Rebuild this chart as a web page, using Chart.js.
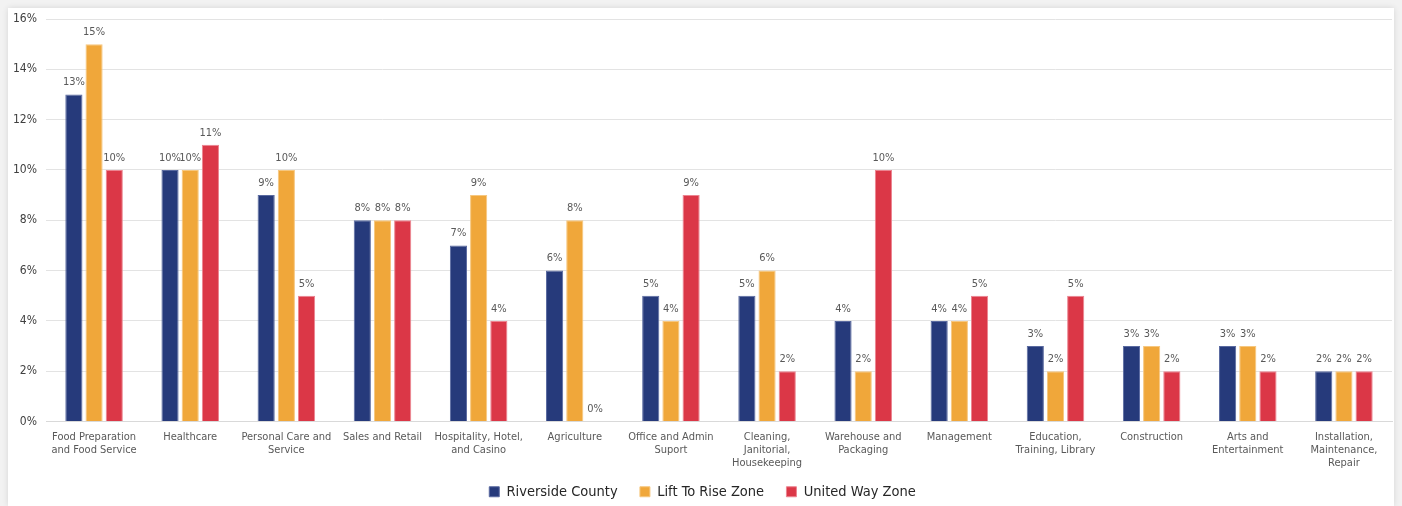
<!DOCTYPE html>
<html>
<head>
<meta charset="utf-8">
<script src="https://cdn.jsdelivr.net/npm/chart.js@4"></script>
<style>
  html, body { margin: 0; padding: 0; background: #f2f2f2; }
  #card {
    position: absolute; left: 8px; top: 8px; width: 1386px; height: 498px;
    background: #fff; box-shadow: 0 0 6px rgba(0,0,0,0.12);
  }
  #card canvas { display: block; }
</style>
</head>
<body>
<div id="card"><canvas id="occupation-chart"></canvas></div>
<script>
// Share of employment by occupation group
const occupationLabels = [
    ['Food Preparation', 'and Food Service'],
    'Healthcare',
    ['Personal Care and', 'Service'],
    'Sales and Retail',
    ['Hospitality, Hotel,', 'and Casino'],
    'Agriculture',
    ['Office and Admin', 'Suport'],
    ['Cleaning,', 'Janitorial,', 'Housekeeping'],
    ['Warehouse and', 'Packaging'],
    'Management',
    ['Education,', 'Training, Library'],
    'Construction',
    ['Arts and', 'Entertainment'],
    ['Installation,', 'Maintenance,', 'Repair']
];
const riversideData = [13, 10, 9, 8, 7, 6, 5, 5, 4, 4, 3, 3, 3, 2];
const liftToRiseData = [15, 10, 10, 8, 9, 8, 4, 6, 2, 4, 2, 3, 3, 2];
const unitedWayData = [10, 11, 5, 8, 4, 0, 9, 2, 10, 5, 5, 2, 2, 2];
const yTickValues = [0, 2, 4, 6, 8, 10, 12, 14, 16];

const fontFamily = '"DejaVu Sans Condensed", Tahoma, "DejaVu Sans", sans-serif';

// Draw the value above each bar
const valueLabels = {
    id: 'valueLabels',
    afterDatasetsDraw(chart) {
        const ctx = chart.ctx;
        ctx.save();
        ctx.font = '11px ' + fontFamily;
        ctx.fillStyle = '#595959';
        ctx.textAlign = 'center';
        ctx.textBaseline = 'middle';
        chart.data.datasets.forEach((ds, i) => {
            chart.getDatasetMeta(i).data.forEach((bar, j) => {
                ctx.fillText(ds.data[j] + '%', bar.x, bar.y - 12);
            });
        });
        ctx.restore();
    }
};

const occupationChart = new Chart(document.getElementById('occupation-chart'), {
    type: 'bar',
    data: {
        labels: occupationLabels,
        datasets: [{
            label: 'Riverside County',
            data: riversideData,
            backgroundColor: '#263a7b',
            borderColor: '#5a6aa0',
            borderWidth: 1
        }, {
            label: 'Lift To Rise Zone',
            data: liftToRiseData,
            backgroundColor: '#f0a73a',
            borderColor: '#f6c77f',
            borderWidth: 1
        }, {
            label: 'United Way Zone',
            data: unitedWayData,
            backgroundColor: '#db3747',
            borderColor: '#ec8490',
            borderWidth: 1
        }]
    },
    options: {
        responsive: true,
        maintainAspectRatio: false,
        animation: false,
        categoryPercentage: 0.63,
        barPercentage: 0.85,
        layout: { padding: { top: 0, right: 2, left: 5, bottom: -3 } },
        plugins: {
            tooltip: { enabled: false },
            legend: {
                position: 'bottom',
                labels: {
                    boxWidth: 10,
                    boxHeight: 10,
                    padding: 14,
                    color: '#262626',
                    font: { family: fontFamily, size: 14.5 },
                    generateLabels(chart) {
                        const items = Chart.defaults.plugins.legend.labels.generateLabels(chart);
                        items.forEach((it, i) => {
                            if (i < items.length - 1) it.text += '  ';
                        });
                        return items;
                    }
                }
            }
        },
        scales: {
            x: {
                grid: { display: false },
                border: { color: '#d9d9d9' },
                afterFit(scale) {
                    scale.paddingLeft = 0;
                    scale.paddingRight = 0;
                },
                ticks: {
                    color: '#595959',
                    padding: 1,
                    maxRotation: 0,
                    autoSkip: false,
                    font: { family: fontFamily, size: 11, lineHeight: '13px' }
                }
            },
            y: {
                min: 0,
                max: 16,
                afterBuildTicks(axis) {
                    axis.ticks = yTickValues.map(v => ({ value: v }));
                },
                afterFit(scale) {
                    scale.width = 33;
                    scale.paddingTop = 11;
                    scale.paddingBottom = 0;
                },
                grid: { color: '#e3e3e3', drawTicks: false },
                border: { display: false },
                ticks: {
                    color: '#404040',
                    padding: 9,
                    font: { family: fontFamily, size: 12 },
                    callback: v => v + '%'
                }
            }
        }
    },
    plugins: [valueLabels]
});
</script>
</body>
</html>
